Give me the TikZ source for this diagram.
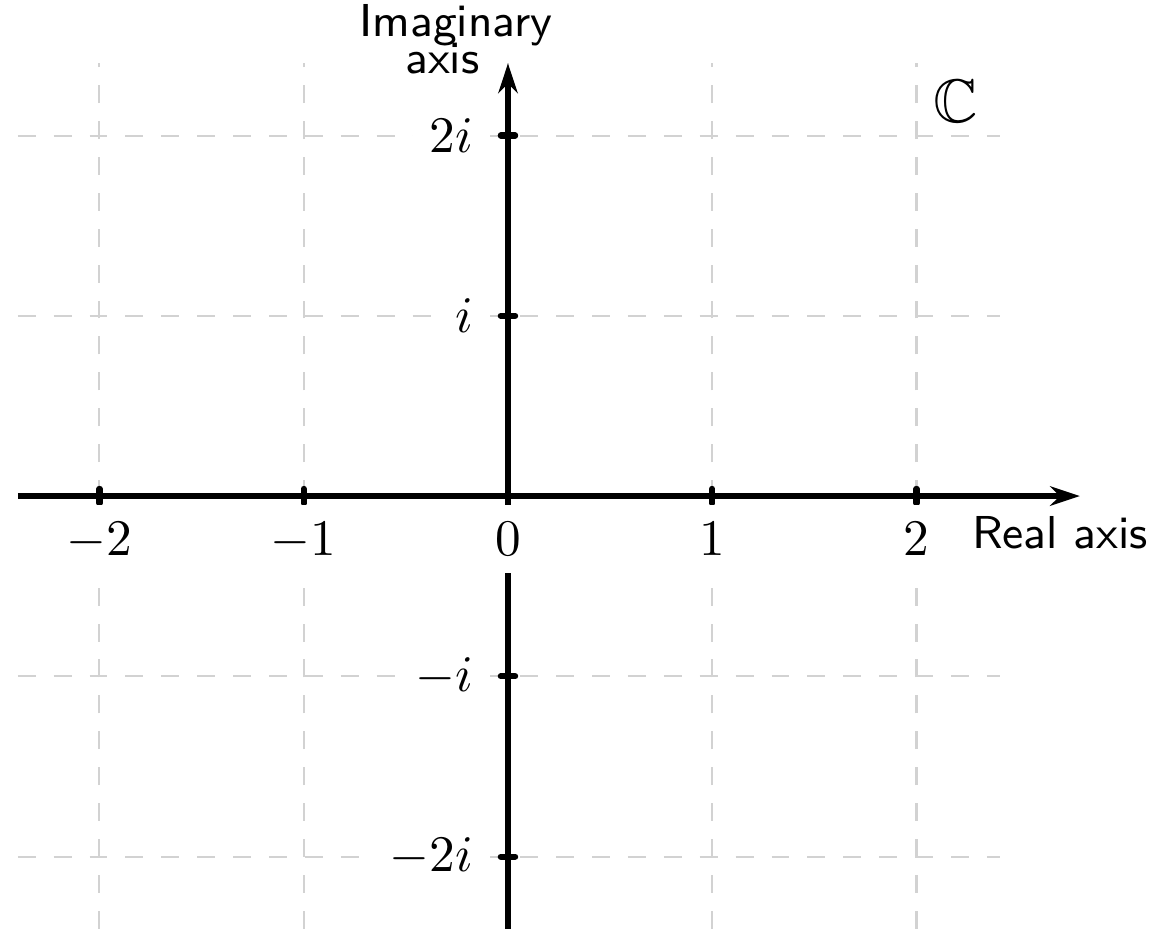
\documentclass[tikz,border=0pt]{standalone}
\usepackage{amsmath}
\usepackage{amssymb}
\usetikzlibrary{arrows.meta}

\begin{document}
\begin{tikzpicture}[x=1.4cm,y=1.2355cm,
		gridline/.style={gray!35,dash pattern=on 3.5pt off 3.5pt,line width=0.4pt},
		axisline/.style={line width=1.2pt,-{Stealth[length=5.8pt,width=3.8pt]}},
		tickmark/.style={line width=1.2pt,line cap=round},
		xlabel/.style={anchor=north,fill=white,yshift=-1.6pt},
		ylabel/.style={anchor=east,fill=white,xshift=-3.3pt},
		axisname/.style={inner sep=0pt,font=\sffamily\small}]
				\useasboundingbox (-2.487,-2.413) rectangle (3.158,2.752); % same margins as the plane needs
				% dashed grid of the plane
				\draw[gridline,step=1] (-2.4,-2.4) grid (2.41,2.4);
				% real and imaginary axes
				\draw[axisline] (-2.4,0) -- (2.8,0);
				\draw[axisline] (0,-2.4) -- (0,2.4);
				% ticks on the real axis
				\draw[tickmark] (-2,0) ++(0,-1.4pt) -- ++(0,2.8pt);
				\draw[tickmark] (-1,0) ++(0,-1.4pt) -- ++(0,2.8pt);
				\draw[tickmark] (0,0) ++(0,-1.4pt) -- ++(0,2.8pt);
				\draw[tickmark] (1,0) ++(0,-1.4pt) -- ++(0,2.8pt);
				\draw[tickmark] (2,0) ++(0,-1.4pt) -- ++(0,2.8pt);
				% ticks on the imaginary axis
				\draw[tickmark] (0,-2) ++(-1.4pt,0) -- ++(2.8pt,0);
				\draw[tickmark] (0,-1) ++(-1.4pt,0) -- ++(2.8pt,0);
				\draw[tickmark] (0,1) ++(-1.4pt,0) -- ++(2.8pt,0);
				\draw[tickmark] (0,2) ++(-1.4pt,0) -- ++(2.8pt,0);
				% tick labels
				\node[xlabel] (rem2) at (-2,0) {$-2$};
				\node[xlabel] (rem1) at (-1,0) {$-1$};
				\node[xlabel] (re0) at (0,0) {$0$};
				\node[xlabel] (re1) at (1,0) {$1$};
				\node[xlabel] (re2) at (2,0) {$2$};
				\node[ylabel] (imm2) at (0,-2) {$-2i$};
				\node[ylabel] (imm1) at (0,-1) {$-i$};
				\node[ylabel] (im1) at (0,1) {$i$};
				\node[ylabel] (im2) at (0,2) {$2i$};
				% names of the axes and of the plane
				\node[axisname,anchor=base west] (realname) at (2.267,-0.2885) {Real axis};
				\node[axisname,anchor=south,align=center] (imagname) at (-0.255,2.336) {Imaginary\\[-3.8pt]axis\hspace*{5.3pt}};
				\node (plane) at (2.19,2.19) {\large$\mathbb{C}$};
			\end{tikzpicture}
\end{document}
